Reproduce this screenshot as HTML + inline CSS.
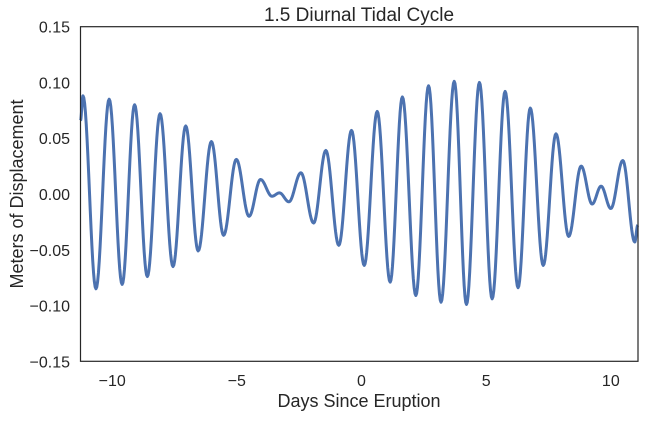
<!DOCTYPE html>
<html><head><meta charset="utf-8"><style>
body{margin:0;background:#fff;}
svg text{font-family:"Liberation Sans",sans-serif;fill:#262626;}
</style></head><body>
<svg id="chart" width="645" height="417">
<text x="359" y="21" font-size="19" text-anchor="middle">1.5 Diurnal Tidal Cycle</text>
<g id="yticks"></g><g id="xticks"></g>
<path id="line" fill="none" stroke="#4C72B0" stroke-width="3" stroke-linejoin="round"/>
<rect x="80.5" y="26.7" width="557.5" height="334.6" fill="none" stroke="#262626" stroke-width="1.2"/>
<text x="359" y="407" font-size="18" text-anchor="middle">Days Since Eruption</text>
<text transform="translate(23,194) rotate(-90)" font-size="18" text-anchor="middle">Meters of Displacement</text>
</svg>
<script>
const extremaDays=[-11.27,-11.17,-10.65,-10.12,-9.60,-9.10,-8.59,-8.08,-7.56,-7.05,-6.55,-6.02,-5.53,-5.02,-4.51,-4.05,-3.59,-3.29,-2.91,-2.43,-1.92,-1.43,-0.91,-0.40,0.11,0.63,1.15,1.64,2.18,2.69,3.19,3.72,4.21,4.73,5.24,5.76,6.28,6.77,7.29,7.80,8.31,8.81,9.25,9.61,10.00,10.48,10.96,11.08];
const extremaValues=[0.066,0.088,-0.085,0.085,-0.081,0.080,-0.074,0.072,-0.065,0.061,-0.051,0.047,-0.037,0.031,-0.020,0.013,-0.002,0.001,-0.007,0.019,-0.026,0.039,-0.046,0.057,-0.064,0.074,-0.079,0.087,-0.091,0.097,-0.097,0.101,-0.099,0.100,-0.094,0.092,-0.084,0.077,-0.064,0.054,-0.038,0.025,-0.009,0.007,-0.013,0.030,-0.043,-0.028];
const yTickValues=[-0.15,-0.10,-0.05,0.00,0.05,0.10,0.15];
const yTickLabels=["\u22120.15","\u22120.10","\u22120.05","0.00","0.05","0.10","0.15"];
const xTickValues=[-10,-5,0,5,10];
const xTickLabels=["\u221210","\u22125","0","5","10"];
const X0=80.5,X1=638,Y0=26.7,Y1=361.3,XMIN=-11.27,XMAX=11.09,YMIN=-0.15,YMAX=0.15;
function xs(v){return X0+(v-XMIN)/(XMAX-XMIN)*(X1-X0);}
function ys(v){return Y1-(v-YMIN)/(YMAX-YMIN)*(Y1-Y0);}
const NS="http://www.w3.org/2000/svg";
const yg=document.getElementById('yticks');
yTickValues.forEach((v,i)=>{const t=document.createElementNS(NS,'text');
t.setAttribute('x',70);t.setAttribute('y',ys(v)+6);t.setAttribute('font-size','16');t.setAttribute('text-anchor','end');
t.textContent=yTickLabels[i];


yg.appendChild(t);});
const xg=document.getElementById('xticks');
xTickValues.forEach((v,i)=>{const t=document.createElementNS(NS,'text');
t.setAttribute('x',xs(v));t.setAttribute('y',386);t.setAttribute('font-size','16');t.setAttribute('text-anchor','middle');
t.textContent=xTickLabels[i];


xg.appendChild(t);});
let d='';
for(let i=0;i<extremaDays.length-1;i++){
 const a=extremaDays[i],b=extremaDays[i+1],va=extremaValues[i],vb=extremaValues[i+1];
 const n=16;
 for(let k=(i==0?0:1);k<=n;k++){const f=k/n;const x=a+(b-a)*f;const w=(1-Math.cos(Math.PI*f))/2;const v=va+(vb-va)*w;
  d+=(d?'L':'M')+xs(x).toFixed(2)+','+ys(v).toFixed(2);}
}
document.getElementById('line').setAttribute('d',d);
</script>
</body></html>
